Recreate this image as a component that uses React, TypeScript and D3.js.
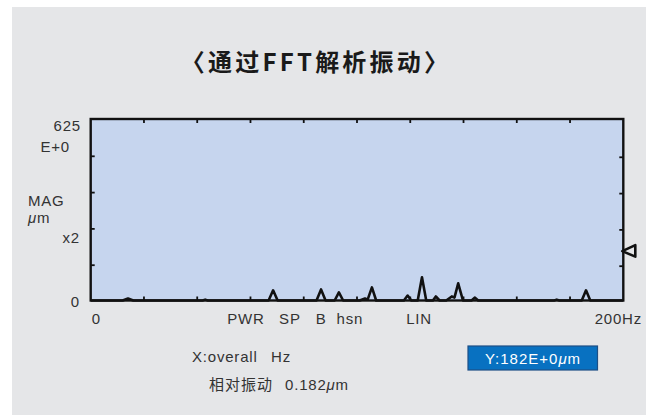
import * as d3 from "d3";

// spectrum: frequency (Hz) and magnitude (um)
const specHz = [0, 12, 14, 16, 42, 43, 44, 66.8, 68.5, 70.2, 84.8, 86.5, 88.2, 91.6, 93.2, 94.8, 101, 103, 104, 105.6, 107.2, 117.6, 119, 120.4, 122.8, 124.4, 126, 128.5, 129.6, 131, 133.5, 135.6, 136.6, 138, 139.8, 143, 144.3, 145.5, 174, 175, 176, 184.4, 186, 187.6, 200];
const specMag = [0, 0, 7, 0, 0, 3, 0, 0, 35, 0, 0, 38, 0, 0, 28, 0, 0, 7, 3, 45, 0, 0, 17, 0, 0, 80, 0, 0, 14, 0, 0, 14, 10, 59, 0, 0, 10, 0, 0, 3, 0, 0, 35, 0, 0];

const xTicks = [0, 20, 40, 60, 80, 100, 120, 140, 160, 180, 200];
const yTicks = [0, 125, 250, 375, 500, 625];
const bandLabels = ["PWR", "SP", "B", "hsn", "LIN"];
const bandHz = [58.3, 74.8, 86.5, 97.3, 123.3];
const cursorLevel = 170;

const FONT = "'Liberation Sans', Arial, 'Noto Sans CJK SC', sans-serif";
const CJK = "'Noto Sans CJK SC', 'Liberation Sans', sans-serif";

export default function App() {
  const left = 90.7, right = 623.3, top = 119, bottom = 300.5;
  const x = d3.scaleLinear().domain([0, 200]).range([left, right]);
  const y = d3.scaleLinear().domain([0, 625]).range([bottom, top]);

  const pts: [number, number][] = specHz.map((f, i) => [f, specMag[i]]);
  const line = d3
    .line<[number, number]>()
    .x((d) => x(d[0]))
    .y((d) => y(d[1]));

  const tl = 4;
  const cy = y(cursorLevel);

  return (
    <svg
      width={646}
      height={415}
      style={{ position: "absolute", left: 0, top: 0, background: "#fff" }}
    >
      <rect x={12} y={7} width={634} height={408} fill="#e5e6e8" />

      <text x={316} y={71} textAnchor="middle" fontFamily={CJK} fontWeight="bold" fontSize={24} fill="#1a1a1a" letterSpacing={3.2}>
        〈通过FFT解析振动〉
      </text>

      <rect x={left} y={top} width={right - left} height={bottom - top} fill="#c6d5ee" />

      {xTicks.slice(1, -1).map((t) => (
        <g key={"xt" + t} stroke="#111" strokeWidth={1.8}>
          <line x1={x(t)} x2={x(t)} y1={top} y2={top + tl} />
          <line x1={x(t)} x2={x(t)} y1={bottom} y2={bottom - tl} />
        </g>
      ))}
      {yTicks.slice(1, -1).map((t) => (
        <g key={"yt" + t} stroke="#111" strokeWidth={1.8}>
          <line x1={left} x2={left + tl} y1={y(t) + 1} y2={y(t) + 1} />
          <line x1={right} x2={right - tl} y1={y(t) + 2} y2={y(t) + 2} />
        </g>
      ))}

      <path d={line(pts) || ""} fill="none" stroke="#111" strokeWidth={2.6} strokeLinejoin="round" />

      <rect x={left} y={top} width={right - left} height={bottom - top} fill="none" stroke="#111" strokeWidth={2.4} />

      <path
        d={`M${right - 1},${cy} L${right + 12},${cy - 6} L${right + 12},${cy + 5.5} Z`}
        fill="#e5e6e8"
        stroke="#111"
        strokeWidth={2.6}
        strokeLinejoin="round"
      />

      <g fontFamily={FONT} fontSize={15} fill="#333" letterSpacing={0.8}>
        <text x={81} y={131} textAnchor="end">625</text>
        <text x={70} y={152} textAnchor="end">E+0</text>
        <text x={28} y={206}>MAG</text>
        <text x={28} y={223}>
          <tspan fontStyle="italic">μ</tspan>m
        </text>
        <text x={80} y={243} textAnchor="end">x2</text>
        <text x={80} y={306.5} textAnchor="end">0</text>

        <text x={x(0) + 1} y={323.5}>0</text>
        {bandLabels.map((b, i) => (
          <text key={b} x={x(bandHz[i])} y={323.5} textAnchor="middle">{b}</text>
        ))}
        <text x={642} y={323.5} textAnchor="end">200Hz</text>

        <text x={192} y={362}>X:overall</text>
        <text x={271} y={362}>Hz</text>
        <text x={209} y={390}>
          <tspan fontFamily={CJK} letterSpacing={1}>相对振动</tspan>
          <tspan dx={12}>0.182</tspan>
          <tspan fontStyle="italic">μ</tspan>m
        </text>
      </g>

      <rect x={468} y={346} width={129.5} height={24} fill="#0871c1" stroke="#1d4f85" strokeWidth={1.2} />
      <text x={533} y={363.5} textAnchor="middle" fontFamily={FONT} fontSize={15} fill="#fff" letterSpacing={1}>
        Y:182E+0<tspan fontStyle="italic">μ</tspan>m
      </text>
    </svg>
  );
}
